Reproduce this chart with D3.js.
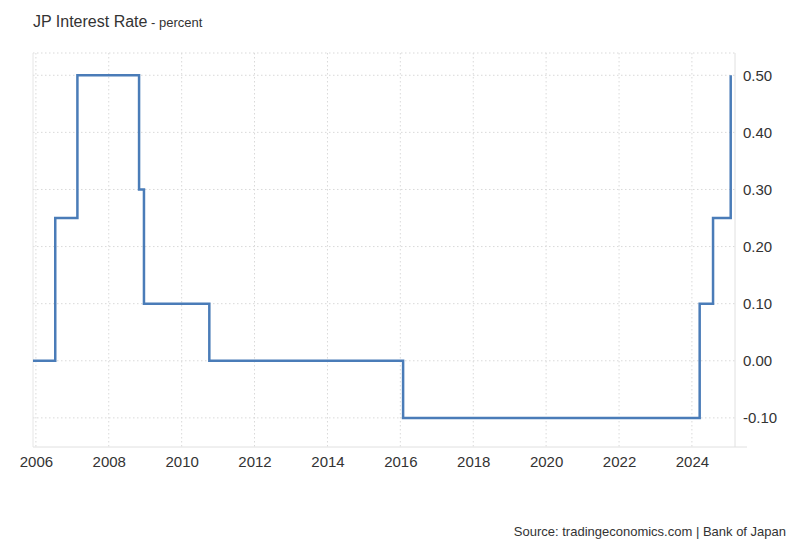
<!DOCTYPE html>
<html>
<head>
<meta charset="utf-8">
<script src="https://cdn.jsdelivr.net/npm/d3@7"></script>
<style>
  body { margin: 0; background: #fff; }
  svg text { font-family: "Helvetica Neue", Helvetica, Arial, "Liberation Sans", sans-serif; fill: #333; }
  .grid line { stroke: #d9d9d9; stroke-dasharray: 1.5,2.5; }
</style>
</head>
<body>
<svg id="chart" width="800" height="547"></svg>
<script>
// rate decisions (date, percent)
const dates = ["2005-12-03", "2006-07-14", "2007-02-21", "2008-10-31", "2008-12-19",
               "2010-10-05", "2016-01-29", "2024-03-19", "2024-07-31", "2025-01-24"];
const rates = [0, 0.25, 0.5, 0.3, 0.1, 0, -0.1, 0.1, 0.25, 0.5];
const yearTicks = [2006, 2008, 2010, 2012, 2014, 2016, 2018, 2020, 2022, 2024];
const rateTicks = [-0.1, 0, 0.1, 0.2, 0.3, 0.4, 0.5];

const svg = d3.select("#chart");
const margin = { top: 53, right: 65, bottom: 100, left: 33 };
const width = 800 - margin.left - margin.right;
const height = 547 - margin.top - margin.bottom;
const g = svg.append("g").attr("transform", "translate(" + margin.left + "," + margin.top + ")");

const parse = d3.timeParse("%Y-%m-%d");
const data = dates.map((d, i) => ({ date: parse(d), value: rates[i] }));

const x = d3.scaleTime()
            .domain([parse("2005-12-03"), parse("2025-03-08")])
            .range([0, width]);
const y = d3.scaleLinear()
            .domain([-0.151, 0.539])
            .range([height, 0]);

// gridlines
g.append("g")
  .attr("class", "grid")
  .selectAll("line")
  .data(rateTicks.concat([0.539]))
  .join("line")
  .attr("x1", 0).attr("x2", width)
  .attr("y1", d => y(d)).attr("y2", d => y(d));

g.append("g")
  .attr("class", "grid")
  .selectAll("line")
  .data(yearTicks)
  .join("line")
  .attr("x1", d => x(new Date(d, 0, 1))).attr("x2", d => x(new Date(d, 0, 1)))
  .attr("y1", 0).attr("y2", height);

// axis frame lines
g.append("line")
  .attr("x1", 0).attr("x2", width + 12)
  .attr("y1", height).attr("y2", height)
  .attr("stroke", "#e0e0e0");
g.append("line")
  .attr("x1", width).attr("x2", width)
  .attr("y1", 0).attr("y2", height)
  .attr("stroke", "#e0e0e0");
g.append("line")
  .attr("x1", 0).attr("x2", 0)
  .attr("y1", 0).attr("y2", height)
  .attr("stroke", "#e6e6e6");

// x axis
const xAxis = d3.axisBottom(x)
                .tickValues(yearTicks.map(d => new Date(d, 0, 1)))
                .tickFormat(d3.timeFormat("%Y"))
                .tickSize(0)
                .tickPadding(9);
g.append("g")
  .attr("transform", "translate(0," + height + ")")
  .call(xAxis)
  .call(a => a.select(".domain").remove())
  .selectAll("text")
  .style("font-size", "15px")
  .attr("fill", "#333");

// y axis (right)
const yAxis = d3.axisRight(y)
                .tickValues(rateTicks)
                .tickFormat(d3.format(".2f"))
                .tickSize(0)
                .tickPadding(8);
g.append("g")
  .attr("transform", "translate(" + width + ",0)")
  .call(yAxis)
  .call(a => a.select(".domain").remove())
  .selectAll("text")
  .style("font-size", "15px")
  .attr("fill", "#333")
  .text(d => d < 0 ? "-" + d3.format(".2f")(-d) : d3.format(".2f")(d));

// rate line
const line = d3.line()
               .x(d => x(d.date))
               .y(d => y(d.value))
               .curve(d3.curveStepAfter);
g.append("path")
  .datum(data)
  .attr("fill", "none")
  .attr("stroke", "#4a7cb8")
  .attr("stroke-width", 2.5)
  .attr("d", line);

// title
const title = svg.append("text")
                 .attr("x", 33)
                 .attr("y", 27);
title.append("tspan").style("font-size", "16px").text("JP Interest Rate");
title.append("tspan").style("font-size", "13px").text(" - percent");

// source
svg.append("text")
   .attr("x", 786)
   .attr("y", 536)
   .attr("text-anchor", "end")
   .style("font-size", "13px")
   .text("Source: tradingeconomics.com | Bank of Japan");
</script>
</body>
</html>
